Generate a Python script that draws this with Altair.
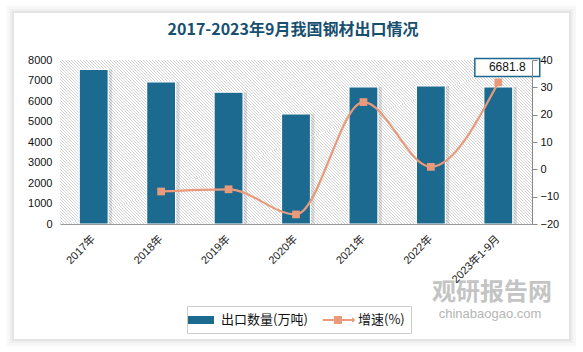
import altair as alt
import pandas as pd

# ---- data ----
title_text = "2017-2023年9月我国钢材出口情况"
categories = ["2017年", "2018年", "2019年", "2020年", "2021年", "2022年", "2023年1-9月"]
export_volume = [7543, 6934, 6429, 5367, 6690, 6732, 6681.8]   # 万吨
growth_categories = ["2018年", "2019年", "2020年", "2021年", "2022年", "2023年1-9月"]
growth_rate = [-8.1, -7.3, -16.5, 24.6, 0.9, 31.8]              # %
label_category = ["2023年1-9月"]
label_growth = [31.8]
label_text = ["6681.8"]
series_names = ["出口数量(万吨)", "增速(%)"]

BAR = "#1c6a8f"
LINE = "#e99a7b"
FONT = "Liberation Sans, Noto Sans CJK SC"
W, H = 472, 164

bars_df = pd.DataFrame({"cat": categories, "vol": export_volume})
growth_df = pd.DataFrame({"cat": growth_categories, "g": growth_rate})
label_df = pd.DataFrame({"cat": label_category, "g": label_growth, "t": label_text})
one = pd.DataFrame({"k": [0]})
legend_df = pd.DataFrame({"s": series_names})

xenc = alt.X("cat:N", sort=categories, title=None,
             scale=alt.Scale(paddingInner=0.0, paddingOuter=0.0),
             axis=alt.Axis(labelAngle=-45, labelAlign="right", labelBaseline="middle",
                           labelPadding=13, ticks=False, domainColor="#999999",
                           labelFont=FONT, labelFontSize=11, labelColor="#222222",
                           zindex=1))

# panel with soft shadow
def panel(exp, color):
    return alt.Chart(one).mark_rect(color=color).encode(
        x=alt.value(-46 - exp), x2=alt.value(509 + exp),
        y=alt.value(-47 - exp), y2=alt.value(279 + exp))

panel_layers = [panel(7, "#f7f7f7"), panel(4, "#eeeeee"), panel(2, "#e4e4e4"), panel(0, "#ffffff")]

# diagonal hatch background via striped gradient
rng = 636.0
period = 3.0
stops = []
c = 0.0
while c < rng:
    a = c / rng
    b = min((c + period - 1.0) / rng, 1.0)
    e = min((c + period) / rng, 1.0)
    stops += [alt.GradientStop(offset=a, color="#ffffff"),
              alt.GradientStop(offset=b, color="#ffffff"),
              alt.GradientStop(offset=b, color="#d4d4d4"),
              alt.GradientStop(offset=e, color="#d4d4d4")]
    c += period
hatch = alt.Chart(one).mark_rect(
    color=alt.LinearGradient(gradient="linear", stops=stops,
                             x1=0.8923, y1=-0.3100, x2=-0.3100, y2=0.1077)
).encode(x=alt.value(0), x2=alt.value(W), y=alt.value(0), y2=alt.value(H))

title = alt.Chart(one).mark_text(text=title_text, font="Noto Sans CJK SC", fontSize=16,
                                 fontWeight="bold", color="#17506f").encode(
    x=alt.value(233), y=alt.value(-30))

yleft = alt.Y("vol:Q", title=None,
              scale=alt.Scale(domain=[0, 8000], nice=False),
              axis=alt.Axis(values=[0, 1000, 2000, 3000, 4000, 5000, 6000, 7000, 8000],
                            format="d", domain=False, ticks=False, grid=False, labelPadding=8,
                            labelFont=FONT, labelFontSize=11, labelColor="#111111",
                            zindex=1))

bar_shadow = alt.Chart(bars_df).mark_bar(size=33, color="#000000", opacity=0.12,
                                         xOffset=2).encode(x=xenc, y=yleft)
bars = alt.Chart(bars_df).mark_bar(size=29, color=BAR, stroke="white",
                                   strokeWidth=1.2).encode(x=xenc, y=yleft)

rect_path = "M-1.625,-0.5L1.625,-0.5L1.625,0.5L-1.625,0.5Z"
line_path = ("M-1.9,-0.12L1.6,-0.12L1.6,0.12L-1.9,0.12Z"
             "M-0.5,-0.5L0.5,-0.5L0.5,0.5L-0.5,0.5Z"
             "M1.55,0L1.85,-0.3L2.15,0L1.85,0.3Z")
leg = alt.Legend(title=None, orient="none", legendX=127, legendY=246,
                 direction="horizontal", strokeColor="#cccccc",
                 padding=6, symbolSize=256, symbolStrokeWidth=0,
                 labelOffset=12, columnPadding=14,
                 labelFont="Noto Sans CJK SC", labelFontSize=13,
                 labelColor="#111111")
dummy = alt.Chart(legend_df).mark_point(filled=True, clip=True, opacity=1).encode(
    x=alt.value(-2000), y=alt.value(-2000),
    color=alt.Color("s:N", scale=alt.Scale(domain=series_names, range=[BAR, LINE]), legend=leg),
    shape=alt.Shape("s:N", scale=alt.Scale(domain=series_names, range=[rect_path, line_path]),
                    legend=leg),
)

wm1 = alt.Chart(one).mark_text(text="观研报告网", font="Noto Sans CJK SC", fontWeight="bold",
                               fontSize=24, color="#c4c4c4").encode(
    x=alt.value(432), y=alt.value(233))
wm2 = alt.Chart(one).mark_text(text="chinabaogao.com", font=FONT, fontSize=13,
                               color="#b5b5b5").encode(x=alt.value(430), y=alt.value(254))

left = alt.layer(*panel_layers, hatch, title, bar_shadow, bars, dummy, wm1, wm2)

yright = alt.Y("g:Q", title=None,
               scale=alt.Scale(domain=[-20, 40], nice=False, zero=False),
               axis=alt.Axis(orient="right", values=[-20, -10, 0, 10, 20, 30, 40],
                             domainColor="#888888", tickColor="#888888", tickSize=5,
                             grid=False, labelPadding=3, labelFont=FONT, labelFontSize=11,
                             labelColor="#111111", zindex=1))

line = alt.Chart(growth_df).mark_line(color=LINE, strokeWidth=2.2,
                                      interpolate="monotone").encode(x=xenc, y=yright)
points = alt.Chart(growth_df).mark_point(shape="square", filled=True, size=60,
                                         color=LINE, opacity=1).encode(x=xenc, y=yright)
box_path = "M-1.8,-0.5L1.8,-0.5L1.8,0.5L-1.8,0.5Z"
box = alt.Chart(label_df).mark_point(shape=box_path, size=1300, fill="white",
                                     stroke=BAR, strokeWidth=1.5, opacity=1,
                                     filled=False, fillOpacity=1,
                                     xOffset=9, yOffset=-15).encode(x=xenc, y=yright)
txt = alt.Chart(label_df).mark_text(font=FONT, fontSize=12, color="#111111",
                                    dx=9, dy=-15).encode(x=xenc, y=yright, text="t:N")

right = alt.layer(line, points, box, txt)

chart = alt.layer(left, right).resolve_scale(y="independent").properties(
    width=W, height=H,
    autosize=alt.AutoSizeParams(type="none"),
    padding={"left": 60, "top": 60, "right": 51, "bottom": 128},
    background="white",
).configure_view(stroke=None)

chart.save("out.html", embed_options={"renderer": "svg", "actions": False})
